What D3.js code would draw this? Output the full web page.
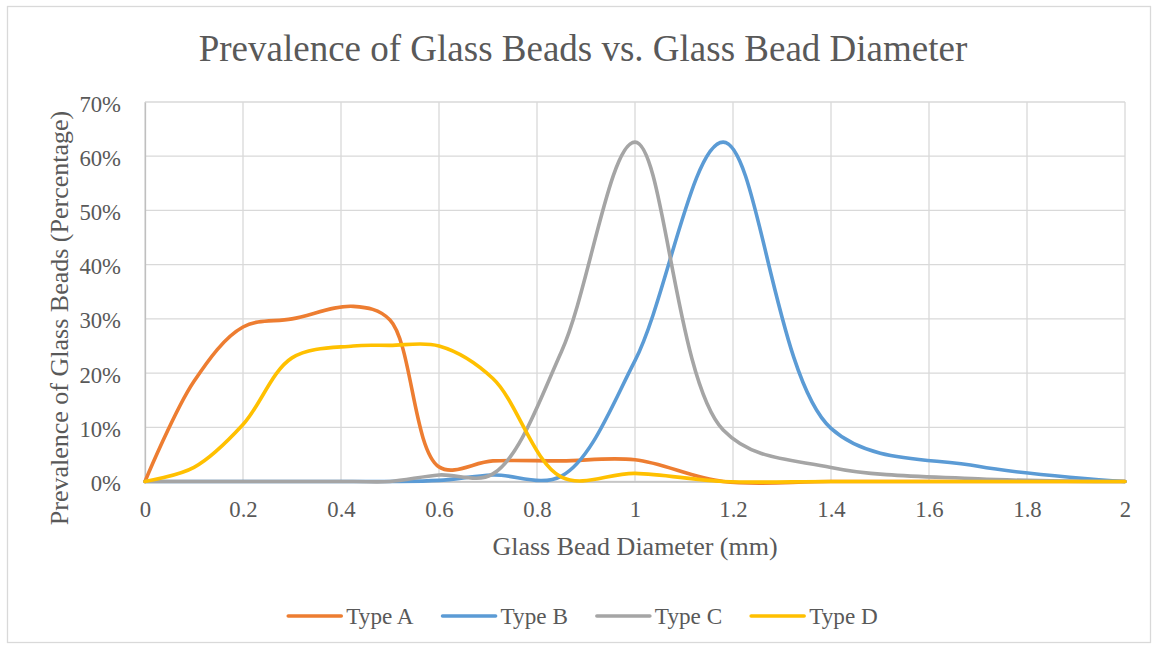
<!DOCTYPE html>
<html>
<head>
<meta charset="utf-8">
<script src="https://cdn.jsdelivr.net/npm/d3@7/dist/d3.min.js"></script>
<style>
  html, body { margin: 0; padding: 0; background: #ffffff; }
  svg { display: block; }
  text { font-family: "Liberation Serif", "Times New Roman", serif; fill: #595959; }
</style>
</head>
<body>
<svg id="chart" width="1158" height="649"></svg>
<script>
// Sieve diameters (mm) and share of beads retained for each type (%)
const diameters = [0, 0.1, 0.2, 0.3, 0.425, 0.5, 0.6, 0.71, 0.85, 1.0, 1.18, 1.4, 1.7, 2.0];
const typeA = [0, 18.5, 28.5, 30.0, 32.3, 29.8, 2.7, 3.8, 3.8, 4.0, 0, 0, 0, 0];
const typeB = [0, 0, 0, 0, 0, 0, 0.2, 1.2, 1.0, 22.3, 62.6, 9.8, 2.8, 0];
const typeC = [0, 0, 0, 0, 0, 0, 1.2, 1.4, 24, 62.6, 9.5, 2.6, 0.5, 0];
const typeD = [0, 2.6, 10.5, 22.8, 25, 25.1, 25, 19, 0.8, 1.5, 0, 0, 0, 0];

const seriesNames = ["Type A", "Type B", "Type C", "Type D"];
const seriesColors = ["#ED7D31", "#5B9BD5", "#A5A5A5", "#FFC000"];
const xTicks = [0, 0.2, 0.4, 0.6, 0.8, 1, 1.2, 1.4, 1.6, 1.8, 2];
const yTicks = [0, 10, 20, 30, 40, 50, 60, 70];

const titleText = "Prevalence of Glass Beads vs. Glass Bead Diameter";
const xTitle = "Glass Bead Diameter (mm)";
const yTitle = "Prevalence of Glass Beads (Percentage)";

const series = [typeA, typeB, typeC, typeD].map((vals, i) => ({
  name: seriesNames[i],
  color: seriesColors[i],
  points: diameters.map((d, j) => ({ x: d, y: vals[j] }))
}));

const svg = d3.select("#chart");
const W = 1158, H = 649;
const plot = { left: 145, right: 1125, top: 102, bottom: 481.5 };

// chart frame
svg.append("rect")
  .attr("x", 7.5).attr("y", 6.5)
  .attr("width", W - 15).attr("height", H - 13)
  .attr("fill", "#ffffff").attr("stroke", "#d9d9d9").attr("stroke-width", 1.3);

const x = d3.scaleLinear().domain([0, 2]).range([plot.left, plot.right]);
const y = d3.scaleLinear().domain([0, 70]).range([plot.bottom, plot.top]);

// gridlines
const grid = svg.append("g");
grid.selectAll("line.h").data(yTicks).join("line")
  .attr("x1", plot.left).attr("x2", plot.right)
  .attr("y1", d => y(d)).attr("y2", d => y(d))
  .attr("stroke", "#d9d9d9").attr("stroke-width", 1.3);
grid.selectAll("line.v").data(xTicks).join("line")
  .attr("y1", plot.top).attr("y2", plot.bottom)
  .attr("x1", d => x(d)).attr("x2", d => x(d))
  .attr("stroke", "#d9d9d9").attr("stroke-width", 1.3);

// axes
const xAxis = svg.append("g")
  .attr("transform", `translate(0,${plot.bottom})`)
  .call(d3.axisBottom(x).tickValues(xTicks).tickSize(0).tickPadding(0)
    .tickFormat(d => String(d)));
xAxis.select(".domain").attr("stroke", "#bfbfbf").attr("stroke-width", 1.3);
xAxis.selectAll("text")
  .attr("y", 35.5).attr("dy", null)
  .style("font-size", "22.7px").style("font-family", "Liberation Serif").attr("fill", "#595959");

const yAxis = svg.append("g")
  .attr("transform", `translate(${plot.left},0)`)
  .call(d3.axisLeft(y).tickValues(yTicks).tickSize(0).tickPadding(0)
    .tickFormat(d => d + "%"));
yAxis.select(".domain").attr("stroke", "#bfbfbf").attr("stroke-width", 1.3);
yAxis.selectAll("text")
  .attr("x", -24).attr("dy", null).attr("y", 9)
  .style("font-size", "22.7px").style("font-family", "Liberation Serif").attr("fill", "#595959");

// series lines, smoothed
const line = d3.line()
  .x(d => x(d.x)).y(d => y(d.y))
  .curve(d3.curveCatmullRom.alpha(0.5));

svg.append("g").selectAll("path").data(series).join("path")
  .attr("d", d => line(d.points))
  .attr("fill", "none")
  .attr("stroke", d => d.color)
  .attr("stroke-width", 3.6)
  .attr("stroke-linecap", "round")
  .attr("stroke-linejoin", "round");

// titles
svg.append("text")
  .attr("x", 583).attr("y", 61)
  .attr("text-anchor", "middle")
  .style("font-size", "37px")
  .text(titleText);

svg.append("text")
  .attr("x", (plot.left + plot.right) / 2).attr("y", 555)
  .attr("text-anchor", "middle")
  .style("font-size", "26px")
  .text(xTitle);

svg.append("text")
  .attr("transform", "translate(68,318) rotate(-90)")
  .attr("text-anchor", "middle")
  .style("font-size", "26px")
  .text(yTitle);

// legend
const legend = svg.append("g");
const lineLen = 53, gapText = 5, itemGap = 29, legendY = 616;
const items = legend.selectAll("g").data(series).join("g");
items.append("line")
  .attr("x1", 0).attr("x2", lineLen)
  .attr("y1", 0).attr("y2", 0)
  .attr("stroke", d => d.color).attr("stroke-width", 3.6)
  .attr("stroke-linecap", "round");
items.append("text")
  .attr("x", lineLen + gapText).attr("y", 8)
  .style("font-size", "23.2px")
  .text(d => d.name);
const widths = [];
items.each(function () {
  widths.push(lineLen + gapText + this.querySelector("text").getComputedTextLength());
});
const total = d3.sum(widths) + itemGap * (widths.length - 1);
let cur = 583 - total / 2;
items.attr("transform", (d, i) => {
  const t = `translate(${cur},${legendY})`;
  cur += widths[i] + itemGap;
  return t;
});
</script>
</body>
</html>
